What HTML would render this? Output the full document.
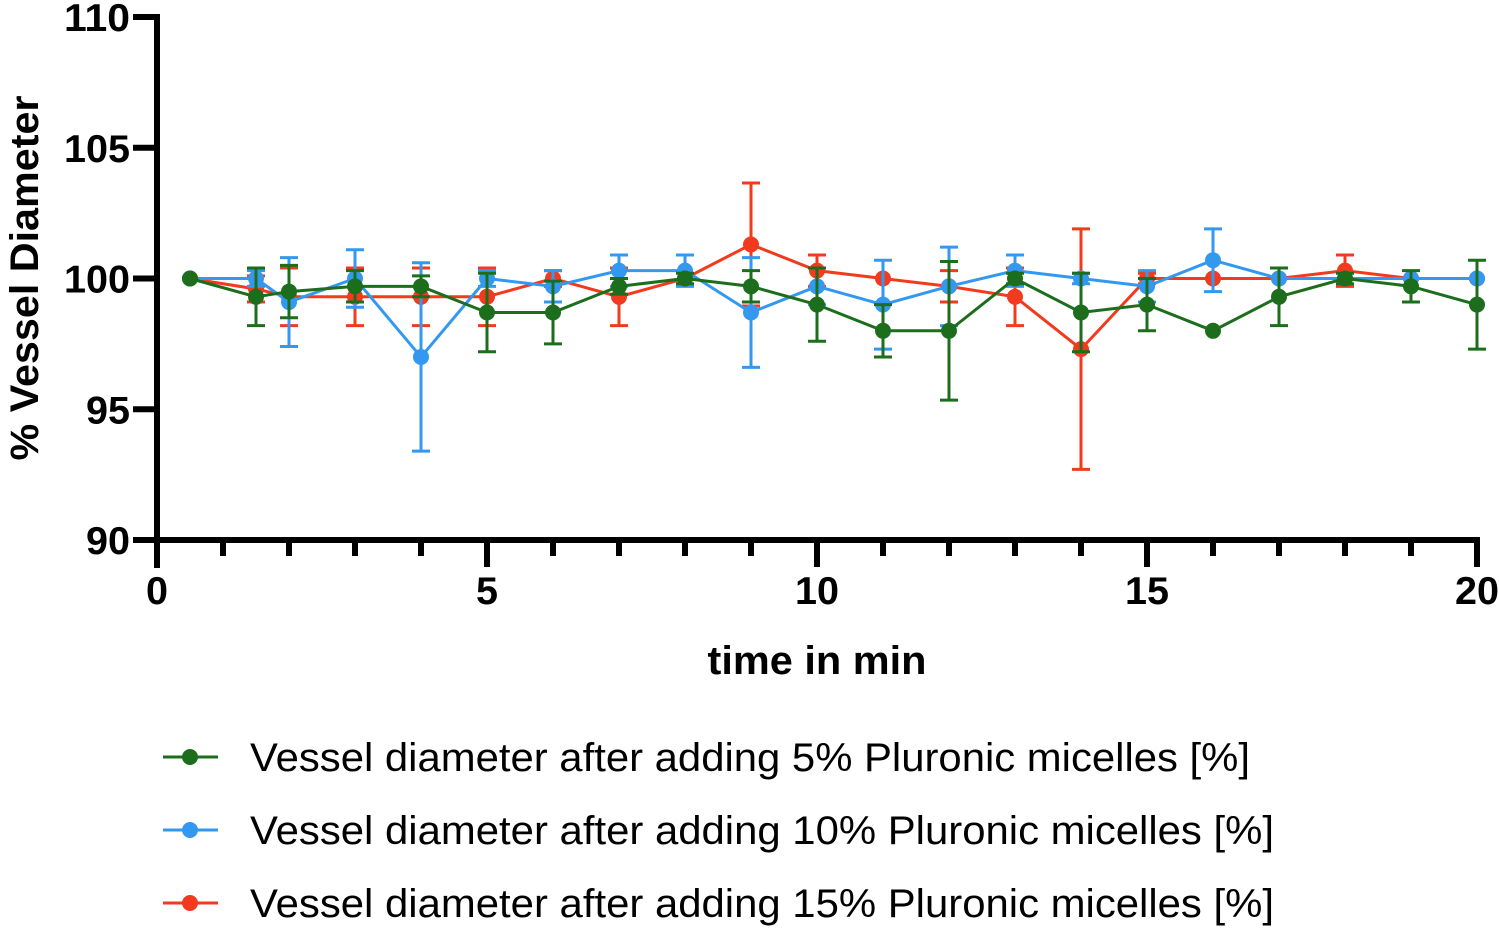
<!DOCTYPE html>
<html><head><meta charset="utf-8"><style>
html,body{margin:0;padding:0;background:#fff}
svg{display:block;font-family:"Liberation Sans",Arial,sans-serif}
</style></head><body>
<svg id="chart" width="1499" height="934" viewBox="0 0 1499 934">
<g id="axes"></g>
<g id="series"></g>
<text x="0" y="0" transform="translate(38,278) rotate(-90)" text-anchor="middle" font-size="40" font-weight="bold" textLength="365" lengthAdjust="spacingAndGlyphs">% Vessel Diameter</text>
<text x="817" y="674" text-anchor="middle" font-size="40" font-weight="bold" textLength="219" lengthAdjust="spacingAndGlyphs">time in min</text>
<g id="legend"></g>
</svg>
<script>
const times=[0.5,1.5,2,3,4,5,6,7,8,9,10,11,12,13,14,15,16,17,18,19,20];
const green=[100,99.3,99.5,99.7,99.7,98.7,98.7,99.7,100,99.7,99,98,98,100,98.7,99,98,99.3,100,99.7,99];
const greenErr=[0,1.1,1.0,0.6,0.4,1.5,1.2,0.3,0.2,0.6,1.4,1.0,2.65,0.2,1.5,1.0,0,1.1,0.2,0.6,1.7];
const blue=[100,100,99.1,100,97,100,99.7,100.3,100.3,98.7,99.7,99,99.7,100.3,100,99.7,100.7,100,100,100,100];
const blueErr=[0,0.3,1.7,1.1,3.6,0.3,0.6,0.6,0.6,2.1,0.7,1.7,1.5,0.6,0.2,0.6,1.2,0,0,0,0];
const red=[100,99.6,99.3,99.3,99.3,99.3,100,99.3,100,101.3,100.3,100,99.7,99.3,97.3,100,100,100,100.3,100,100];
const redErr=[0,0.5,1.1,1.1,1.1,1.1,0.3,1.1,0,2.35,0.6,0,0.6,1.1,4.6,0.2,0,0,0.6,0,0];
const yTicks=[90,95,100,105,110];
const xTicks=[0,5,10,15,20];
const legendLabels=["Vessel diameter after adding 5% Pluronic micelles [%]","Vessel diameter after adding 10% Pluronic micelles [%]","Vessel diameter after adding 15% Pluronic micelles [%]"];
const legendWidths=[1000,1024,1024];

const NS="http://www.w3.org/2000/svg";
const X=v=>157+(v-0)*66;
const Y=v=>540-(v-90)*26.15;
function mk(tag,attrs,parent){const e=document.createElementNS(NS,tag);for(const k in attrs)e.setAttribute(k,attrs[k]);parent.appendChild(e);return e;}
const axes=document.getElementById('axes');
let a=mk('line',{x1:157,y1:14,x2:157,y2:568,stroke:'#000','stroke-width':6},axes);


a=mk('line',{x1:154,y1:540,x2:1480,y2:540,stroke:'#000','stroke-width':6},axes);


yTicks.forEach(t=>{
 const l=mk('line',{x1:133,y1:Y(t),x2:157,y2:Y(t),stroke:'#000','stroke-width':6},axes);
 
 
 const tx=mk('text',{x:130,y:Y(t)+14,'text-anchor':'end','font-size':39,'font-weight':'bold',textLength:String(t).length*22,lengthAdjust:'spacingAndGlyphs'},axes);
 tx.textContent=t;
 
 
});
for(let i=1;i<=20;i++){
 const major=i%5===0;
 const l=mk('line',{x1:X(i),y1:540,x2:X(i),y2:major?567:556,stroke:'#000','stroke-width':6},axes);
 
 
}
xTicks.forEach(t=>{
 const tx=mk('text',{x:X(t),y:604,'text-anchor':'middle','font-size':39,'font-weight':'bold',textLength:String(t).length*22,lengthAdjust:'spacingAndGlyphs'},axes);
 tx.textContent=t;
 
 
});
const seriesG=document.getElementById('series');
const defs=[[green,greenErr,'#1c6e1c','green'],[blue,blueErr,'#3399f0','blue'],[red,redErr,'#f23a1e','red']];
[defs[2],defs[1],defs[0]].forEach(([vals,errs,col,nm])=>{
 const g=mk('g',{},seriesG);
 
 
 times.forEach((t,i)=>{
  if(errs[i]>0){
   const x=X(t),y1=Y(vals[i]+errs[i]),y2=Y(vals[i]-errs[i]);
   const e=mk('path',{d:`M${x},${y1}V${y2}M${x-9},${y1}H${x+9}M${x-9},${y2}H${x+9}`,stroke:col,'stroke-width':3,fill:'none'},g);
   
   
  }
 });
 const p=mk('polyline',{points:times.map((t,i)=>X(t)+','+Y(vals[i])).join(' '),stroke:col,'stroke-width':3,fill:'none'},g);
 
 
 times.forEach((t,i)=>{
  const c=mk('circle',{cx:X(t),cy:Y(vals[i]),r:8,fill:col},g);
  
  
 });
});
const lg=document.getElementById('legend');
[defs[0],defs[1],defs[2]].forEach((d,i)=>{
 const y=757+i*73;
 const g=mk('g',{},lg);
 
 
 mk('line',{x1:163,y1:y,x2:218,y2:y,stroke:d[2],'stroke-width':3},g);
 mk('circle',{cx:190,cy:y,r:8,fill:d[2]},g);
 const tx=mk('text',{x:250,y:y+14,'font-size':40,fill:'#000',textLength:legendWidths[i],lengthAdjust:'spacingAndGlyphs'},g);
 tx.textContent=legendLabels[i];
});
</script>
</body></html>
